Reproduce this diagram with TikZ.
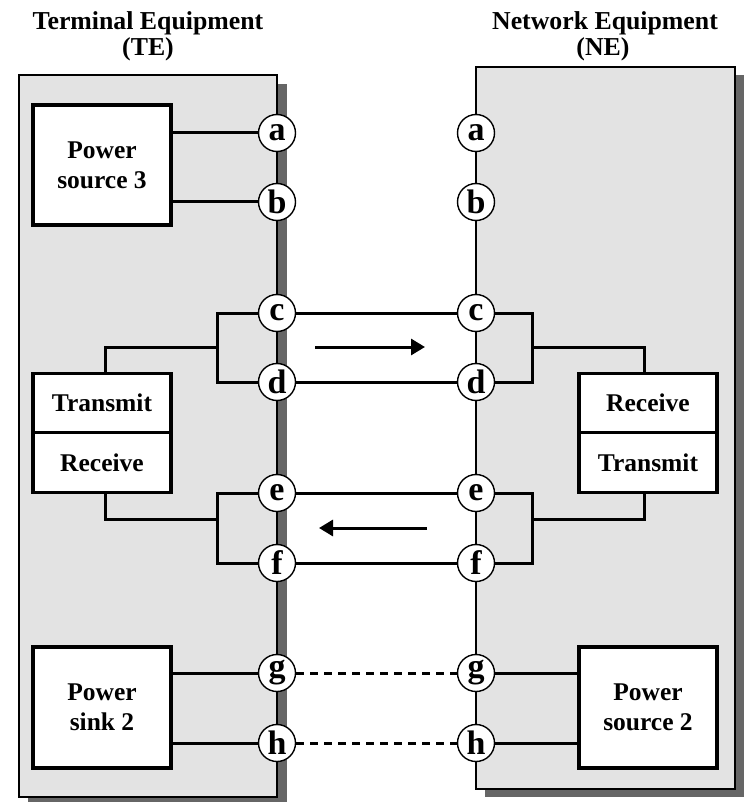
\documentclass[tikz,border=0pt]{standalone}
\usepackage{fontspec}
\setmainfont{Liberation Serif}
\usetikzlibrary{arrows.meta}
\definecolor{boxgray}{HTML}{E3E3E3}
\definecolor{shadowgray}{HTML}{666666}
\tikzset{
  outerbox/.style={draw=black, line width=2.2pt, fill=boxgray},
  unit/.style={draw, line width=3.2pt, fill=white, minimum width=138pt, inner sep=0pt,
    font=\fontsize{25.5}{30}\selectfont\bfseries, align=center},
  pin/.style={circle, draw, line width=1.4pt, fill=white, minimum size=37pt, inner sep=0pt,
    font=\fontsize{34}{34}\selectfont\bfseries},
  wire/.style={line width=3pt},
  dashwire/.style={line width=3pt, dash pattern=on 8pt off 6pt},
  flow/.style={line width=3pt, -{Triangle[length=14pt,width=16pt]}},
  titletext/.style={font=\fontsize{25.8}{26}\selectfont\bfseries, inner sep=0pt, anchor=base},
}
\begin{document}
\begin{tikzpicture}[x=1pt,y=-1pt]
\useasboundingbox (0,0) rectangle (744,802);
% titles
\node[titletext] (tet1) at (148,30) {Terminal Equipment};
\node[titletext] (tet2) at (148,56) {(TE)};
\node[titletext] (net1) at (605,30) {Network Equipment};
\node[titletext] (net2) at (603,56) {(NE)};
% shadows and boxes
\fill[shadowgray] (28,84) rectangle (287,806);
\fill[shadowgray] (485,75) rectangle (744,797);
\draw[outerbox] (19,75) rectangle (277,797);
\draw[outerbox] (476,67) rectangle (735,789);
% units
\node[unit, minimum height=120pt] (ps3) at (102,165) {Power\\source 3};
\node[unit, minimum height=59.5pt] (txl) at (102,403) {Transmit};
\node[unit, minimum height=59.5pt] (rxl) at (102,462.5) {Receive};
\node[unit, minimum height=59.5pt] (rxr) at (648,403) {Receive};
\node[unit, minimum height=59.5pt] (txr) at (648,462.5) {Transmit};
\node[unit, minimum height=121pt] (psk2) at (102,707.5) {Power\\sink 2};
\node[unit, minimum height=121pt] (ps2) at (648,707.5) {Power\\source 2};
% junction coordinates
\coordinate (jlt) at (217,347);
\coordinate (jlb) at (217,519);
\coordinate (jrt) at (532,347);
\coordinate (jrb) at (532,519);
\coordinate (ltx) at (105,347);
\coordinate (lrx) at (105,519);
\coordinate (rrx) at (644,347);
\coordinate (rtx) at (644,519);
% pin positions (coordinates first, so wires can be drawn beneath the pins)
\foreach \n/\y in {a/133,b/202,c/313,d/382,e/493,f/563,g/673,h/743}{
  \coordinate (PL\n) at (277,\y);
  \coordinate (PR\n) at (476,\y);
}
% wires
\draw[wire] (ps3.east |- PLa) -- (PLa);
\draw[wire] (ps3.east |- PLb) -- (PLb);
\draw[wire] (PLc) -| (jlt) |- (PLd);
\draw[wire] (jlt |- PLc) -- (jlt |- PLd);
\draw[wire] (jlt) -- (ltx) -- (ltx |- txl.north);
\draw[wire] (PLe) -| (jlb) |- (PLf);
\draw[wire] (jlb |- PLe) -- (jlb |- PLf);
\draw[wire] (jlb) -- (lrx) -- (lrx |- rxl.south);
\draw[wire] (PRc) -| (jrt) |- (PRd);
\draw[wire] (jrt |- PRc) -- (jrt |- PRd);
\draw[wire] (jrt) -- (rrx) -- (rrx |- rxr.north);
\draw[wire] (PRe) -| (jrb) |- (PRf);
\draw[wire] (jrb |- PRe) -- (jrb |- PRf);
\draw[wire] (jrb) -- (rtx) -- (rtx |- txr.south);
\draw[wire] (PLc) -- (PRc);
\draw[wire] (PLd) -- (PRd);
\draw[wire] (PLe) -- (PRe);
\draw[wire] (PLf) -- (PRf);
\draw[wire] (psk2.east |- PLg) -- (PLg);
\draw[wire] (psk2.east |- PLh) -- (PLh);
\draw[wire] (PRg) -- (ps2.west |- PRg);
\draw[wire] (PRh) -- (ps2.west |- PRh);
% pins
\foreach \n in {a,b,c,d,e,f,g,h}{
  \node[pin] (L\n) at (PL\n) {\n};
  \node[pin] (R\n) at (PR\n) {\n};
}
\draw[dashwire] (Lg.east) -- (Rg.west);
\draw[dashwire] (Lh.east) -- (Rh.west);
% flow arrows
\coordinate (fa1) at (315,347);
\coordinate (fa2) at (425,347);
\coordinate (fb1) at (427,528);
\coordinate (fb2) at (319,528);
\draw[flow] (fa1) -- (fa2);
\draw[flow] (fb1) -- (fb2);
\end{tikzpicture}
\end{document}
